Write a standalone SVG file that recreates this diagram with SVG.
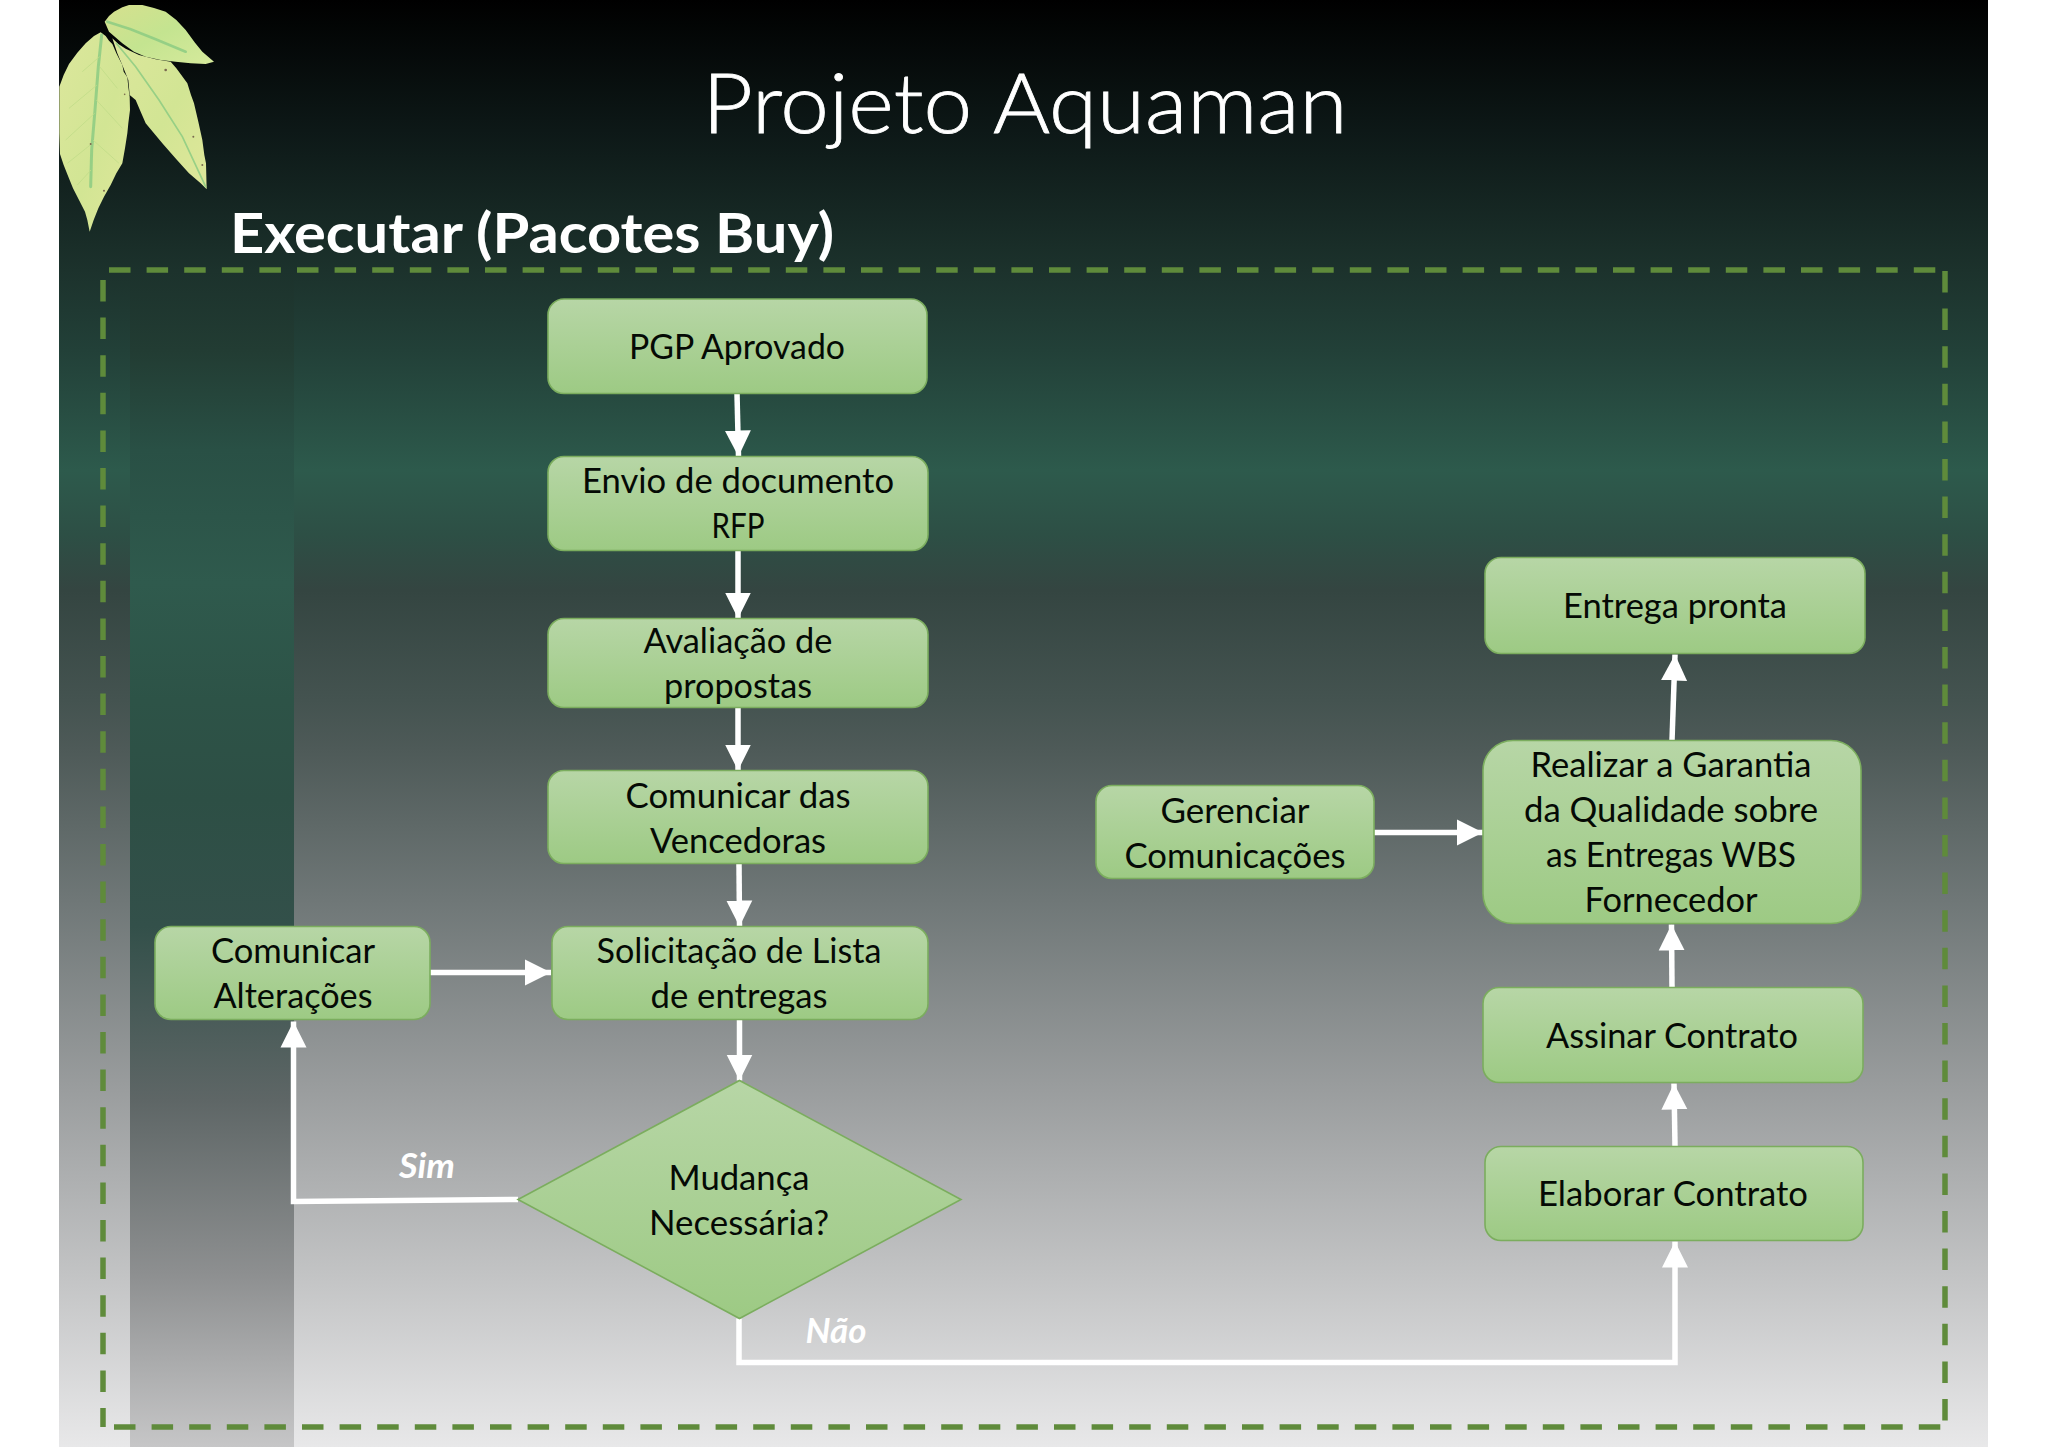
<svg xmlns="http://www.w3.org/2000/svg" width="2048" height="1447" viewBox="0 0 2048 1447">
<style>
.n{fill:url(#nf);stroke:#7bad5e;stroke-width:1.6}
.t{font-family:Lato,"Liberation Sans",sans-serif;font-size:34px;fill:#050a05;text-anchor:middle;transform:translateY(.5px)}
.l{font-family:Lato,"Liberation Sans",sans-serif;font-size:34px;font-weight:700;font-style:italic;fill:#fff;text-anchor:middle}
.c{fill:none;stroke:#fff;stroke-width:5.5;marker-end:url(#a)}
.v{fill:none;stroke:#8ccb82;stroke-width:9;stroke-linecap:round;opacity:.85}
.s{fill:none;stroke:#c0dc88;stroke-width:3;opacity:.8}
.d{fill:none;stroke:#5f8b3b;stroke-width:5.5;stroke-dasharray:21.500 16.100}
.sp{fill:#7a6a50}
</style>
<defs>
<linearGradient id="nf" x1="0" y1="0" x2="0" y2="1"><stop offset="0" stop-color="#b7d6a6"/><stop offset="1" stop-color="#9dca84"/></linearGradient>
<linearGradient id="bg" x1="0" y1="0" x2="0" y2="1447" gradientUnits="userSpaceOnUse">
<stop offset="0" stop-color="#000"/><stop offset=".09" stop-color="#0d1817"/><stop offset=".187" stop-color="#1c322c"/><stop offset=".242" stop-color="#224038"/><stop offset=".325" stop-color="#2d5a4c"/><stop offset=".37" stop-color="#2d4f45"/><stop offset=".408" stop-color="#344541"/><stop offset=".484" stop-color="#445350"/><stop offset=".518" stop-color="#4e5a58"/><stop offset=".622" stop-color="#6f7777"/><stop offset=".75" stop-color="#999c9d"/><stop offset=".88" stop-color="#c2c3c4"/><stop offset="1" stop-color="#e8e8e9"/></linearGradient>
<linearGradient id="st" x1="0" y1="0" x2="0" y2="1447" gradientUnits="userSpaceOnUse">
<stop offset=".187" stop-color="#1c322c"/><stop offset=".242" stop-color="#223c33"/><stop offset=".311" stop-color="#295045"/><stop offset=".403" stop-color="#2f5a4d"/><stop offset=".484" stop-color="#2d5347"/><stop offset=".553" stop-color="#2d4f45"/><stop offset=".64" stop-color="#33504a"/><stop offset=".76" stop-color="#5e6666"/><stop offset=".88" stop-color="#8d8f90"/><stop offset="1" stop-color="#c6c6c7"/></linearGradient>
<linearGradient id="lf" x1="0" y1="0" x2="1" y2="1"><stop offset="0" stop-color="#dce79c"/><stop offset=".55" stop-color="#d2e594"/><stop offset="1" stop-color="#dfe79a"/></linearGradient>
<linearGradient id="lc" x1="0" y1="0" x2="1" y2="1"><stop offset="0" stop-color="#d6e08e"/><stop offset=".5" stop-color="#c4e490"/><stop offset="1" stop-color="#d6ea9c"/></linearGradient>
<marker id="a" markerUnits="userSpaceOnUse" markerWidth="28" markerHeight="28" refX="26" refY="14" orient="auto"><path d="M0 1 26 14 0 27z" fill="#fff"/></marker>
</defs>
<rect width="2048" height="1447" fill="#fff"/>
<rect x="59" width="1929" height="1447" fill="url(#bg)"/>
<rect x="130" y="270" width="164" height="1177" fill="url(#st)"/>

<g id="leaf" transform="translate(59 0) scale(.33333)">
<path d="M125 97 140 108 150 122 160 132 172 160 178 172 190 195 194 215 205 232 208 262 212 290 213 330 208 370 205 400 198 445 190 490 172 520 155 555 135 590 118 625 104 660 92 695 85 660 78 635 60 600 42 565 28 530 14 495 3 462 1 400 1 260 14 225 30 192 55 158 80 130 105 108z" fill="url(#lf)"/>
<path d="M128 105 118 200 108 330 98 450 95 560" class="v"/>
<path d="M122 170 70 215M114 255 30 325M107 340 20 420M100 430 25 490M96 510 55 555M122 200 175 265M112 300 190 385M102 420 180 490" class="s"/>
<path d="M160 115 178 132 200 146 240 165 290 178 335 185 352 205 385 250 396 285 405 310 418 365 430 420 436 465 441 490 443 568 425 550 390 520 352 478 310 430 285 400 260 370 245 335 230 300 212 285 208 240 192 200 175 160z" fill="url(#lf)"/>
<path d="M172 130 230 200 300 300 370 410 440 560" class="v" style="stroke-width:5"/>
<path d="M137 65 150 48 165 35 190 22 210 15 250 15 285 24 320 35 352 60 380 90 408 128 430 155 465 185 440 192 395 190 350 185 305 180 260 170 225 155 190 130 150 95z" fill="url(#lc)"/>
<path d="M145 65 215 88 290 118 380 155" class="v" style="stroke-width:8"/>
<circle class="sp" cx="320" cy="210" r="4"/><circle class="sp" cx="95" cy="432" r="3"/><circle class="sp" cx="135" cy="572" r="3"/><circle class="sp" cx="403" cy="410" r="3"/><circle class="sp" cx="430" cy="495" r="3"/><circle class="sp" cx="197" cy="283" r="2.500"/>
</g>

<text x="1025" y="133" text-anchor="middle" textLength="645" lengthAdjust="spacingAndGlyphs" stroke="#fff" stroke-width=".8" style="font-family:Lato,'Liberation Sans',sans-serif;font-weight:300;font-size:82px;fill:#fff">Projeto Aquaman</text>
<text x="230" y="253" textLength="604" lengthAdjust="spacingAndGlyphs" style="font-family:Lato,'Liberation Sans',sans-serif;font-weight:700;font-size:55px;fill:#fff">Executar (Pacotes Buy)</text>

<g id="frame">
<path class="d" d="M109 270H1945"/>
<path class="d" d="M103 280V1427"/>
<path class="d" d="M114 1427H1945"/>
<path class="d" d="M1945 271V1427"/>
</g>

<g id="connectors" transform="translate(0 .5)">
<path class="c" d="M737 393 738.500 456"/>
<path class="c" d="M738 550V618"/>
<path class="c" d="M738 707V770"/>
<path class="c" d="M739 863 739.500 926"/>
<path class="c" d="M739.500 1019V1080"/>
<path class="c" d="M430 972H551"/>
<path class="c" d="M518 1199 293.500 1201V1021"/>
<path class="c" d="M739 1318V1362H1675V1241"/>
<path class="c" d="M1675 1146 1674 1083"/>
<path class="c" d="M1672 987 1671.500 924"/>
<path class="c" d="M1672 740 1675 654"/>
<path class="c" d="M1374 832H1483"/>
</g>

<g id="n1"><rect class="n" x="548" y="299" width="379" height="94.500" rx="16"/><text class="t" x="737" y="358" textLength="216" lengthAdjust="spacingAndGlyphs">PGP Aprovado</text></g>
<g id="n2"><rect class="n" x="548" y="456.500" width="380" height="94" rx="16"/><text class="t" x="738" y="492" textLength="312" lengthAdjust="spacingAndGlyphs">Envio de documento</text><text class="t" x="738" y="537" textLength="53" lengthAdjust="spacingAndGlyphs">RFP</text></g>
<g id="n3"><rect class="n" x="548" y="618.500" width="380" height="89" rx="16"/><text class="t" x="738" y="652" textLength="189" lengthAdjust="spacingAndGlyphs">Avaliação de</text><text class="t" x="738" y="697" textLength="148" lengthAdjust="spacingAndGlyphs">propostas</text></g>
<g id="n4"><rect class="n" x="548" y="770.500" width="380" height="93" rx="16"/><text class="t" x="738" y="807" textLength="225" lengthAdjust="spacingAndGlyphs">Comunicar das</text><text class="t" x="738" y="852" textLength="176" lengthAdjust="spacingAndGlyphs">Vencedoras</text></g>
<g id="n5"><rect class="n" x="552" y="926.500" width="376" height="93" rx="16"/><text class="t" x="739" y="962" textLength="285" lengthAdjust="spacingAndGlyphs">Solicitação de Lista</text><text class="t" x="739" y="1007" textLength="177" lengthAdjust="spacingAndGlyphs">de entregas</text></g>
<g id="n6"><rect class="n" x="155" y="926.500" width="275" height="93" rx="16"/><text class="t" x="293" y="962" textLength="164" lengthAdjust="spacingAndGlyphs">Comunicar</text><text class="t" x="293" y="1007" textLength="159" lengthAdjust="spacingAndGlyphs">Alterações</text></g>
<g id="n7"><polygon points="739.500,1080.500 961,1199.500 739.500,1318.500 518,1199.500" fill="url(#nf)" stroke="#7bad5e" stroke-width="1.600"/><text class="t" x="739" y="1189" textLength="141" lengthAdjust="spacingAndGlyphs">Mudança</text><text class="t" x="739" y="1234" textLength="180" lengthAdjust="spacingAndGlyphs">Necessária?</text></g>
<g id="n8"><rect class="n" x="1485" y="557.500" width="380" height="96" rx="16"/><text class="t" x="1675" y="617" textLength="224" lengthAdjust="spacingAndGlyphs">Entrega pronta</text></g>
<g id="n9"><rect class="n" x="1483" y="740.500" width="378" height="183" rx="30"/><text class="t" x="1671" y="776" textLength="281" lengthAdjust="spacingAndGlyphs">Realizar a Garantia</text><text class="t" x="1671" y="821" textLength="294" lengthAdjust="spacingAndGlyphs">da Qualidade sobre</text><text class="t" x="1671" y="866" textLength="250" lengthAdjust="spacingAndGlyphs">as Entregas WBS</text><text class="t" x="1671" y="911" textLength="173" lengthAdjust="spacingAndGlyphs">Fornecedor</text></g>
<g id="n10"><rect class="n" x="1483" y="987.500" width="380" height="95" rx="16"/><text class="t" x="1672" y="1047" textLength="252" lengthAdjust="spacingAndGlyphs">Assinar Contrato</text></g>
<g id="n11"><rect class="n" x="1485" y="1146.500" width="378" height="94" rx="16"/><text class="t" x="1673" y="1205" textLength="270" lengthAdjust="spacingAndGlyphs">Elaborar Contrato</text></g>
<g id="n12"><rect class="n" x="1096" y="785.500" width="278" height="93" rx="16"/><text class="t" x="1235" y="822" textLength="149" lengthAdjust="spacingAndGlyphs">Gerenciar</text><text class="t" x="1235" y="867" textLength="221" lengthAdjust="spacingAndGlyphs">Comunicações</text></g>

<text class="l" x="427" y="1178" textLength="56" lengthAdjust="spacingAndGlyphs">Sim</text>
<text class="l" x="836" y="1343" textLength="61" lengthAdjust="spacingAndGlyphs">Não</text>
</svg>
